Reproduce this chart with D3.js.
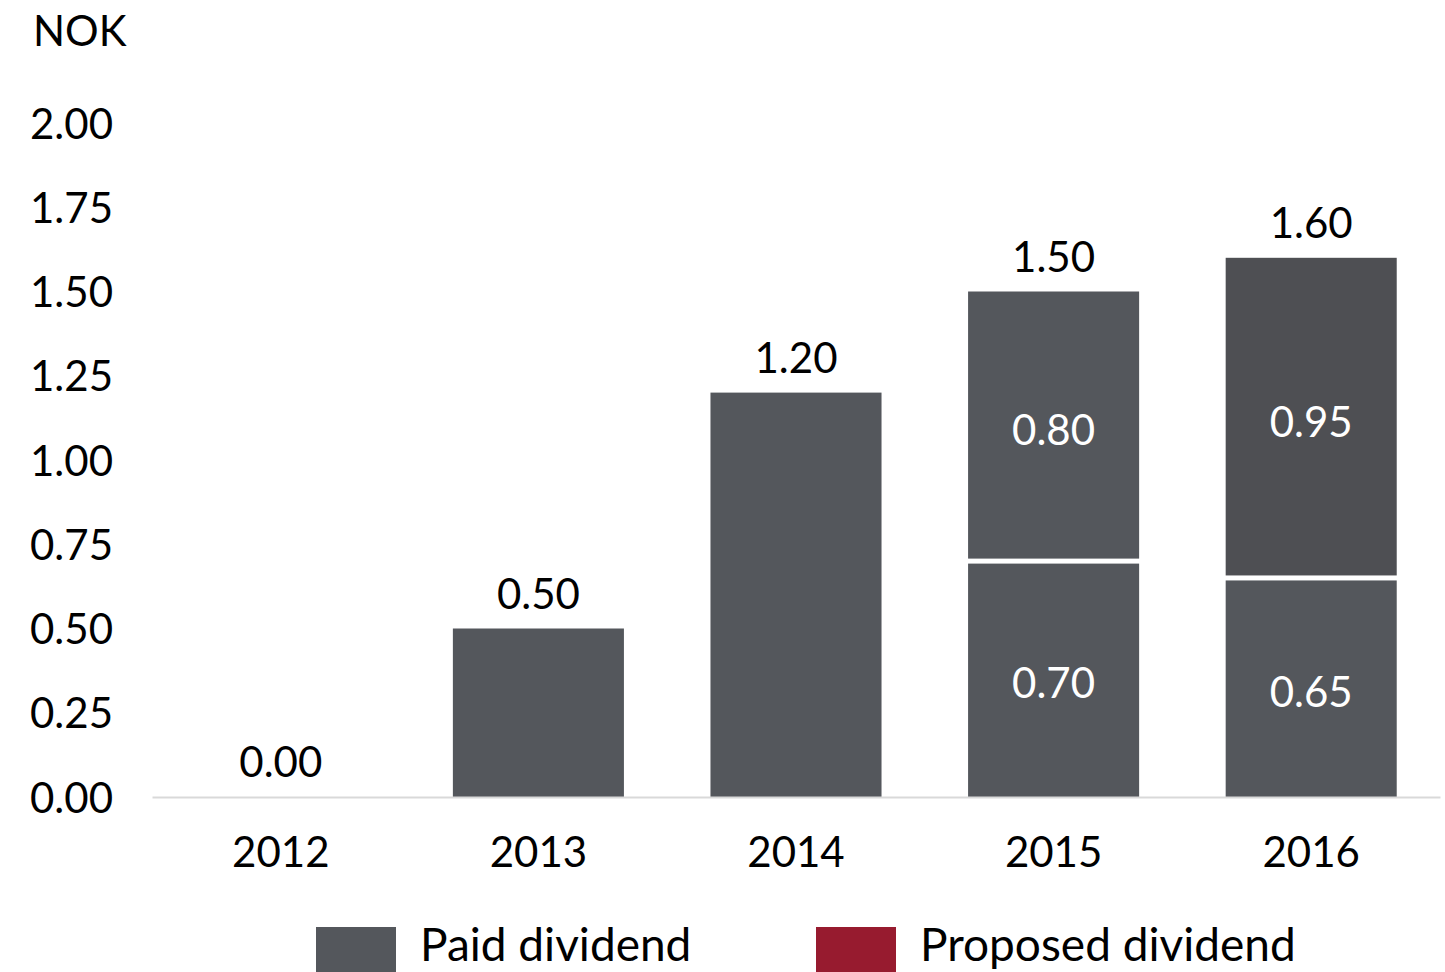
<!DOCTYPE html>
<html>
<head>
<meta charset="utf-8">
<script src="https://cdn.jsdelivr.net/npm/d3@7"></script>
<style>
  html, body { margin: 0; padding: 0; background: #fff; }
  svg { display: block; }
  text { font-family: "Lato", "Noto Sans", sans-serif; fill: #000; }
</style>
</head>
<body>
<svg id="chart" width="1445" height="972"></svg>
<script>
// Dividend per share, NOK
const years = ["2012", "2013", "2014", "2015", "2016"];
const firstPart = [0.00, 0.50, 1.20, 0.70, 0.65];   // lower segment
const secondPart = [0.00, 0.00, 0.00, 0.80, 0.95];  // upper segment
const totals = [0.00, 0.50, 1.20, 1.50, 1.60];
const yTicks = [0, 0.25, 0.5, 0.75, 1.0, 1.25, 1.5, 1.75, 2.0];
const legendLabels = ["Paid dividend", "Proposed dividend"];
const legendColors = ["#54575c", "#971b2f"];
const upperColors = ["#54575c", "#54575c", "#54575c", "#54575c", "#4e4f53"];

const svg = d3.select("#chart");

const x = d3.scaleBand().domain(years).range([152, 1440])
  .paddingInner(0.336).paddingOuter(0.168);
const y = d3.scaleLinear().domain([0, 2]).range([797, 123]);

// Y tick labels
const yAxis = d3.axisLeft(y).tickValues(yTicks).tickFormat(d3.format(".2f")).tickSize(0).tickPadding(0);
const gy = svg.append("g").attr("transform", "translate(113,0)").call(yAxis);
gy.select(".domain").remove();
gy.selectAll("text").attr("font-size", 42).attr("font-family", "Lato, sans-serif")
  .attr("fill", "#000").attr("dy", "0.36em");

svg.append("text").attr("x", 33).attr("y", 46).attr("font-size", 42).text("NOK");

// Bars
const rows = years.map((yr, i) => ({ yr, a: firstPart[i], b: secondPart[i], t: totals[i], i }));
const gap = 2.5;

svg.append("g").selectAll("rect").data(rows.filter(d => d.a > 0)).join("rect")
  .attr("x", d => x(d.yr)).attr("width", x.bandwidth())
  .attr("y", d => y(d.a) + (d.b > 0 ? gap : 0))
  .attr("height", d => y(0) - y(d.a) - (d.b > 0 ? gap : 0))
  .attr("fill", legendColors[0]);

svg.append("g").selectAll("rect").data(rows.filter(d => d.b > 0)).join("rect")
  .attr("x", d => x(d.yr)).attr("width", x.bandwidth())
  .attr("y", d => y(d.a + d.b))
  .attr("height", d => y(d.a) - y(d.a + d.b) - gap)
  .attr("fill", d => upperColors[d.i]);

// Baseline and year labels
const xAxis = d3.axisBottom(x).tickSize(0).tickPadding(0);
const gx = svg.append("g").attr("transform", `translate(0,${y(0)})`).call(xAxis);
gx.select(".domain").attr("stroke", "#d9d9d9").attr("stroke-width", 2);
gx.selectAll("text").attr("font-size", 42).attr("font-family", "Lato, sans-serif")
  .attr("fill", "#000").attr("dy", 0).attr("y", 70);

// Total labels above bars
svg.append("g").selectAll("text").data(rows).join("text")
  .attr("x", d => x(d.yr) + x.bandwidth() / 2)
  .attr("y", d => y(d.t) - 20)
  .attr("text-anchor", "middle").attr("font-size", 42)
  .text(d => d3.format(".2f")(d.t));

// Segment labels inside stacked bars
const inner = [];
rows.filter(d => d.b > 0).forEach(d => {
  inner.push({ yr: d.yr, lo: 0, hi: d.a, v: d.a });
  inner.push({ yr: d.yr, lo: d.a, hi: d.a + d.b, v: d.b });
});
svg.append("g").selectAll("text").data(inner).join("text")
  .attr("x", d => x(d.yr) + x.bandwidth() / 2)
  .attr("y", d => (y(d.lo) + y(d.hi)) / 2 + 4)
  .attr("dy", "0.36em")
  .attr("text-anchor", "middle").attr("font-size", 42)
  .style("fill", "#fff")
  .text(d => d3.format(".2f")(d.v));

// Legend
const legendX = [316, 816];
const lg = svg.append("g").selectAll("g").data(legendLabels).join("g")
  .attr("transform", (d, i) => `translate(${legendX[i]},927)`);
lg.append("rect").attr("width", 80).attr("height", 45).attr("fill", (d, i) => legendColors[i]);
lg.append("text").attr("x", 104).attr("y", 34).attr("font-size", 46).text(d => d);
</script>
</body>
</html>
